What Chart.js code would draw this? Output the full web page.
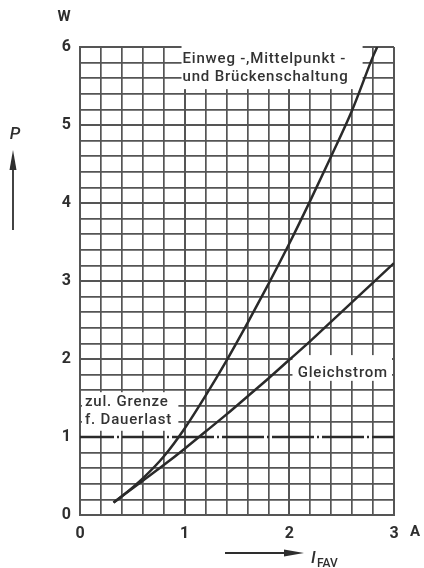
<!DOCTYPE html>
<html>
<head>
<meta charset="utf-8">
<script src="https://cdn.jsdelivr.net/npm/chart.js@4.4.0/dist/chart.umd.min.js"></script>
<style>
  html, body { margin: 0; padding: 0; background: #fff; }
  #wrap { width: 424px; height: 568px; }
</style>
</head>
<body>
<div id="wrap"><canvas id="c" width="424" height="568"></canvas></div>
<script>
// Verlustleistung P in Abhängigkeit vom Dauergrenzstrom I_FAV

// Einweg-, Mittelpunkt- und Brückenschaltung
const bridgeCurrent = [0.32, 0.4, 0.6, 0.8, 1.0, 1.2, 1.4, 1.6, 1.8, 2.0, 2.2, 2.4, 2.6, 2.8, 2.84];
const bridgePower   = [0.16, 0.24, 0.47, 0.75, 1.11, 1.53, 1.98, 2.46, 2.96, 3.48, 4.03, 4.60, 5.19, 5.88, 6.0];

// Gleichstrom
const dcCurrent = [0.32, 0.4, 0.6, 0.8, 1.0, 1.2, 1.4, 1.6, 1.8, 2.0, 2.2, 2.4, 2.6, 2.8, 3.0];
const dcPower   = [0.16, 0.24, 0.44, 0.64, 0.85, 1.07, 1.29, 1.52, 1.75, 1.99, 2.23, 2.48, 2.73, 2.98, 3.23];

// zulässige Grenze für Dauerlast
const limitPower = 1;

// Achsenbeschriftung
const xTickLabels = ['0', '1', '2', '3'];
const yTickLabels = ['0', '1', '2', '3', '4', '5', '6'];
const xUnit = 'A';
const yUnit = 'W';

const INK = '#2a2a2a';
const GRID = '#555555';
const FONT = 'Roboto, "Liberation Sans", Arial, sans-serif';

const isWhole = v => Math.abs(v - Math.round(v)) < 1e-6;
const toPoints = (xs, ys) => xs.map((x, i) => ({ x, y: ys[i] }));

function textBox(ctx, lines, left, top, right, bottom) {
  ctx.fillStyle = '#ffffff';
  ctx.fillRect(left, top, right - left, bottom - top);
  ctx.fillStyle = '#333333';
  ctx.font = '500 15px ' + FONT;
  ctx.letterSpacing = '0.8px';
  ctx.textAlign = 'left';
  ctx.textBaseline = 'alphabetic';
  lines.forEach(l => ctx.fillText(l.text, l.x, l.y));
  ctx.letterSpacing = '0px';
}

const decorations = {
  id: 'decorations',
  beforeDatasetsDraw(chart) {
    const { ctx, scales: { x, y }, chartArea: a } = chart;
    ctx.save();

    // Grenzlinie für Dauerlast (Strich-Punkt)
    const yl = Math.round(y.getPixelForValue(limitPower));
    ctx.strokeStyle = INK;
    ctx.lineWidth = 2.4;
    ctx.setLineDash([42, 3, 2, 3]);
    ctx.lineDashOffset = 8;
    ctx.beginPath();
    ctx.moveTo(a.left, yl);
    ctx.lineTo(a.right, yl);
    ctx.stroke();
    ctx.setLineDash([]);

    // Beschriftungsfelder
    const px = v => x.getPixelForValue(v);
    const py = v => y.getPixelForValue(v);

    textBox(ctx, [
      { text: 'Einweg -,Mittelpunkt -', x: px(0.98), y: py(5.79) },
      { text: 'und Brückenschaltung', x: px(0.98), y: py(5.56) }
    ], px(0.97), a.top - 8, px(2.70), py(5.46));

    textBox(ctx, [
      { text: 'Gleichstrom', x: px(2.08), y: py(1.77) }
    ], px(2.03), py(2.05), a.right - 2, py(1.72));

    textBox(ctx, [
      { text: 'zul. Grenze', x: a.left + 5, y: py(1.40) },
      { text: 'f. Dauerlast', x: a.left + 5, y: py(1.17) }
    ], a.left + 2, py(1.60) + 2, px(0.94), py(1.08));

    ctx.restore();
  },
  afterDraw(chart) {
    const { ctx, chartArea: a } = chart;
    ctx.save();
    ctx.fillStyle = '#2e2e2e';
    ctx.strokeStyle = '#2e2e2e';

    // Einheiten
    ctx.font = 'bold 15px ' + FONT;
    ctx.textAlign = 'center';
    ctx.textBaseline = 'middle';
    ctx.fillText(yUnit, 64, 17);
    ctx.fillText(xUnit, a.right + 21, a.bottom + 17);

    // Formelzeichen P mit Pfeil
    ctx.font = 'italic 500 17px ' + FONT;
    ctx.fillText('P', 15, 135);
    ctx.lineWidth = 1.8;
    ctx.beginPath();
    ctx.moveTo(13, 230);
    ctx.lineTo(13, 165);
    ctx.stroke();
    ctx.beginPath();
    ctx.moveTo(13, 150);
    ctx.lineTo(9.5, 170);
    ctx.lineTo(16.5, 170);
    ctx.closePath();
    ctx.fill();

    // Formelzeichen I_FAV mit Pfeil
    ctx.beginPath();
    ctx.moveTo(225, 553);
    ctx.lineTo(290, 553);
    ctx.stroke();
    ctx.beginPath();
    ctx.moveTo(304, 553);
    ctx.lineTo(284, 549.5);
    ctx.lineTo(284, 556.5);
    ctx.closePath();
    ctx.fill();
    ctx.textAlign = 'left';
    ctx.textBaseline = 'alphabetic';
    ctx.font = 'italic 500 17px ' + FONT;
    ctx.fillText('I', 311, 563);
    ctx.font = '500 12px ' + FONT;
    ctx.fillText('FAV', 317, 567);

    ctx.restore();
  }
};

const gridColor = c => (c.scale.axis === 'y' && c.tick && Math.abs(c.tick.value - limitPower) < 1e-6) ? 'rgba(0,0,0,0)' : GRID;
const gridWidth = c => (c.tick && isWhole(c.tick.value)) ? 2 : 1.7;

new Chart(document.getElementById('c'), {
  type: 'line',
  data: {
    datasets: [
      {
        label: 'Einweg-, Mittelpunkt- und Brückenschaltung',
        data: toPoints(bridgeCurrent, bridgePower),
        borderColor: INK,
        borderWidth: 2.5,
        pointRadius: 0,
        cubicInterpolationMode: 'monotone'
      },
      {
        label: 'Gleichstrom',
        data: toPoints(dcCurrent, dcPower),
        borderColor: INK,
        borderWidth: 2.5,
        pointRadius: 0,
        cubicInterpolationMode: 'monotone'
      }
    ]
  },
  options: {
    responsive: false,
    animation: false,
    events: [],
    layout: { padding: { left: 0, right: 30, top: 47, bottom: 0 } },
    plugins: { legend: { display: false }, tooltip: { enabled: false } },
    scales: {
      x: {
        type: 'linear',
        min: 0,
        max: 3,
        afterFit: s => { s.height = 53; },
        ticks: {
          stepSize: 0.2,
          autoSkip: false,
          maxRotation: 0,
          padding: 9,
          color: '#2e2e2e',
          font: { family: FONT, size: 16, weight: 'bold' },
          callback: v => isWhole(v) ? xTickLabels[Math.round(v)] : ''
        },
        grid: { color: gridColor, lineWidth: gridWidth, drawTicks: false },
        border: { color: GRID, width: 2 }
      },
      y: {
        min: 0,
        max: 6,
        afterFit: s => { s.width = 80; },
        ticks: {
          stepSize: 0.2,
          autoSkip: false,
          padding: 9,
          color: '#2e2e2e',
          font: { family: FONT, size: 16, weight: 'bold' },
          callback: v => isWhole(v) ? yTickLabels[Math.round(v)] : ''
        },
        grid: { color: gridColor, lineWidth: gridWidth, drawTicks: false },
        border: { color: GRID, width: 2 }
      }
    }
  },
  plugins: [decorations]
});
</script>
</body>
</html>
